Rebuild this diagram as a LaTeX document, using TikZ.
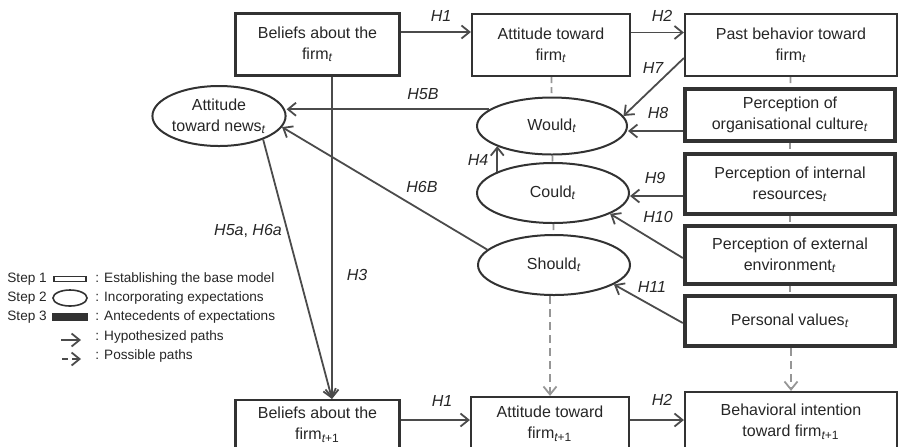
\documentclass[tikz,border=0pt]{standalone}
\usepackage{fontspec}
\setmainfont{Liberation Sans}
\usepackage{tikz}
\usetikzlibrary{shapes.geometric,arrows.meta,positioning,calc}
\usepackage{xcolor}
\definecolor{boxgrey}{RGB}{50,50,50}
\definecolor{linegrey}{RGB}{75,75,75}
\definecolor{dashgrey}{RGB}{150,150,150}
\newcommand{\tnow}{\textsubscript{\itshape t}}
\newcommand{\tnext}{\textsubscript{\itshape t\upshape +1}}

\begin{document}
\begin{tikzpicture}[
    x=0.5pt, y=-0.5pt,
    every node/.style={text=black!85},
    basebox/.style={rectangle, draw=boxgrey, line width=1.1pt, minimum width=81pt, minimum height=31pt, inner sep=1pt, align=center, font=\fontsize{8}{10.5}\selectfont},
    antebox/.style={basebox, line width=2.2pt, minimum width=105pt},
    expect/.style={ellipse, draw=boxgrey, line width=1pt, inner sep=0pt, align=center, font=\fontsize{8}{10.5}\selectfont},
    hyp/.style={inner sep=0pt, font=\fontsize{8}{9}\selectfont\itshape},
    arrow/.style={-{Straight Barb[length=4pt,width=6.5pt]}, line width=0.9pt, linegrey},
    possible/.style={arrow, dashgrey, dash pattern=on 4pt off 2.5pt},
    link/.style={dashgrey, line width=0.9pt, dash pattern=on 3pt off 2pt},
    legtext/.style={anchor=west, inner sep=0pt, font=\fontsize{6.8}{8}\selectfont}
]
\clip (0,0) rectangle (898,446);

% time t
\node[basebox, minimum width=82pt] (bel) at (317.5,44.5) {Beliefs about the\\firm\tnow};
\node[basebox, minimum width=79pt] (att) at (551,45) {Attitude toward\\firm\tnow};
\node[basebox, minimum width=106pt] (past) at (791,45) {Past behavior toward\\firm\tnow};

% expectations
\node[expect, minimum width=66pt, minimum height=30pt] (news) at (219,116) {Attitude\\toward news\tnow};
\node[expect, minimum width=75pt, minimum height=28.5pt] (would) at (552,126) {Would\tnow};
\node[expect, minimum width=76pt, minimum height=30pt] (could) at (553,193) {Could\tnow};
\node[expect, minimum width=76pt, minimum height=30pt] (should) at (554,265) {Should\tnow};

% antecedents
\node[antebox, minimum height=26pt] (cult) at (790,115) {Perception of\\organisational culture\tnow};
\node[antebox, minimum height=30pt] (intres) at (790,184) {Perception of internal\\resources\tnow};
\node[antebox, minimum height=29pt] (extenv) at (790,255) {Perception of external\\environment\tnow};
\node[antebox, minimum height=25pt] (values) at (790,321) {Personal values\tnow};

% time t+1 (cut by the page edge)
\node[basebox, minimum width=82pt, minimum height=25pt] (bel1) at (317.5,425) {Beliefs about the\\firm\tnext};
\node[basebox, minimum width=79pt, minimum height=26.5pt] (att1) at (550,423.5) {Attitude toward\\firm\tnext};
\node[basebox, minimum width=106pt, minimum height=29.5pt] (intent) at (791,421.5) {Behavioral intention\\toward firm\tnext};

% hypothesized paths
\draw[arrow] ([yshift=6.25pt]bel.east) -- ([yshift=6.25pt]bel.east -| att.west);
\draw[arrow] ([yshift=6.25pt]att.east) -- ([yshift=6.25pt]att.east -| past.west);
\draw[arrow] ([yshift=2.5pt]bel1.east) -- ([yshift=2.5pt]bel1.east -| att1.west);
\draw[arrow] ([yshift=1.75pt]att1.east) -- ([yshift=1.75pt]att1.east -| intent.west);
\draw[arrow] ([xshift=7.25pt]bel.south) -- ([xshift=7.25pt]bel1.north);
\draw[arrow] (news.-28) -- ([xshift=7.25pt]bel1.north);
\draw[arrow] (would.165) -- (would.165 -| news.east);
\draw[arrow] (should.167) -- (news.-10);
\draw[arrow] (could.159) -- (could.159 |- would.200);
\draw[arrow] ([yshift=-6.5pt]past.west) -- (would.8);
\draw[arrow] ([yshift=-8pt]cult.west) -- ([yshift=-8pt]cult.west -| would.east);
\draw[arrow] ([yshift=-6pt]intres.west) -- ([yshift=-6pt]intres.west -| could.east);
\draw[arrow] ([yshift=-1.5pt]extenv.west) -- (could.-20);
\draw[arrow] ([yshift=-1pt]values.west) -- (should.-18);

% possible paths
\draw[link] (att) -- (would);
\draw[link] (would) -- (could);
\draw[link] (could) -- (should);
\draw[link] (past) -- (cult);
\draw[link] (cult) -- (intres);
\draw[link] (intres) -- (extenv);
\draw[link] (extenv) -- (values);
\draw[possible] (should.south -| att1.north) -- (att1.north);
\draw[possible] (values.south -| intent.north) -- (intent.north);

% path labels
\node[hyp] (h1a) at (441,16) {H1};
\node[hyp] (h2a) at (662,16) {H2};
\node[hyp] (h1b) at (442,401) {H1};
\node[hyp] (h2b) at (662,400) {H2};
\node[hyp] (h3) at (357,275) {H3};
\node[hyp] (h4) at (478,160) {H4};
\node[hyp] (h5a) at (248,231) {H5a{\upshape ,} H6a};
\node[hyp] (h5b) at (423,94) {H5B};
\node[hyp] (h6b) at (422,187) {H6B};
\node[hyp] (h7) at (653,68) {H7};
\node[hyp] (h8) at (658,113) {H8};
\node[hyp] (h9) at (655,178) {H9};
\node[hyp] (h10) at (658,217) {H10};
\node[hyp] (h11) at (652,287) {H11};

% legend
\node[legtext] (s1) at (7,279) {Step 1};
\node[legtext] (s2) at (7,298) {Step 2};
\node[legtext] (s3) at (7,317) {Step 3};
\node[rectangle, draw=boxgrey, line width=0.8pt, minimum width=16pt, minimum height=2.5pt, inner sep=0pt] (k1) at (70,279) {};
\node[ellipse, draw=boxgrey, line width=0.8pt, minimum width=17pt, minimum height=8pt, inner sep=0pt] (k2) at (70,298) {};
\node[rectangle, draw=boxgrey, line width=1.6pt, minimum width=16pt, minimum height=2pt, inner sep=0pt] (k3) at (70,317) {};
\coordinate (k4a) at (61,340);
\coordinate (k4b) at (81,340);
\coordinate (k5a) at (62,359);
\coordinate (k5b) at (81,359);
\draw[arrow] (k4a) -- (k4b);
\draw[arrow, dash pattern=on 3pt off 2pt] (k5a) -- (k5b);
\node[legtext] (t1) at (95,279) {: Establishing the base model};
\node[legtext] (t2) at (95,298) {: Incorporating expectations};
\node[legtext] (t3) at (95,317) {: Antecedents of expectations};
\node[legtext] (t4) at (95,337) {: Hypothesized paths};
\node[legtext] (t5) at (95,356) {: Possible paths};
\end{tikzpicture}
\end{document}
